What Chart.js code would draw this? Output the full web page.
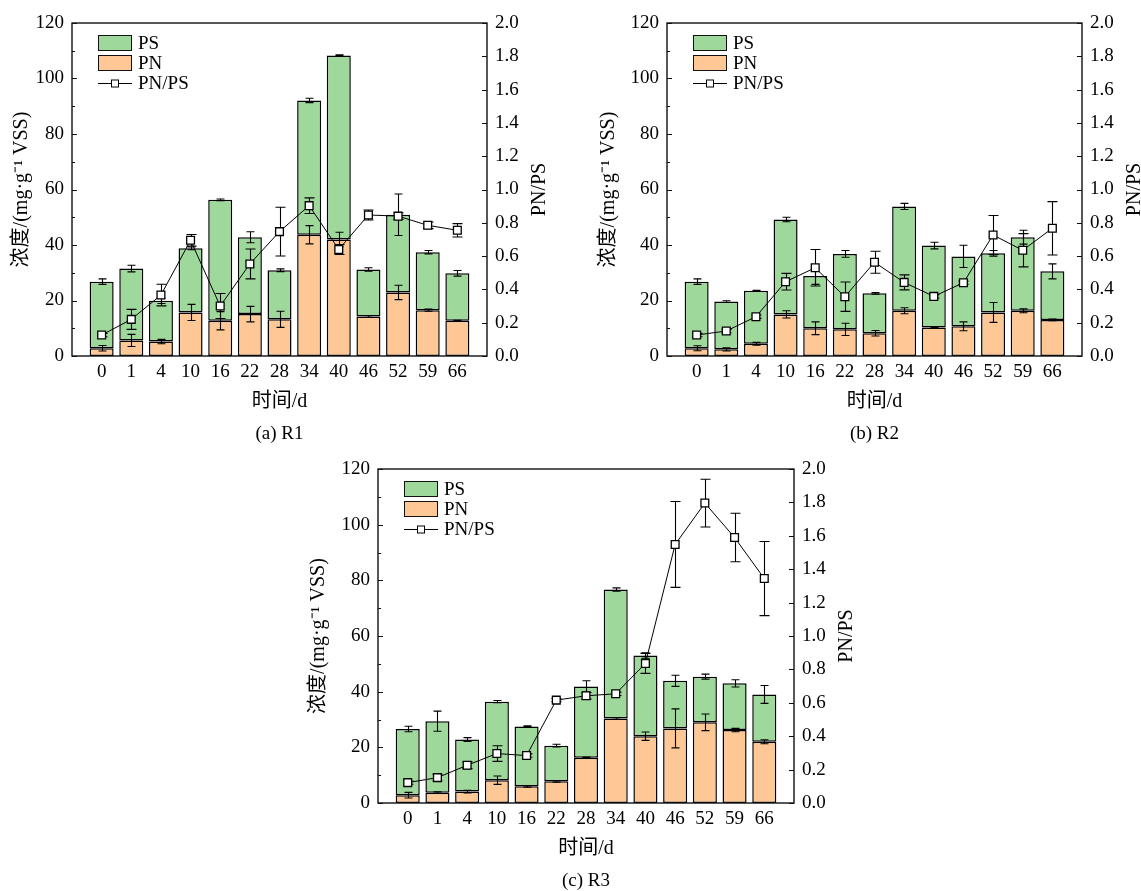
<!DOCTYPE html>
<html>
<head>
<meta charset="utf-8">
<script src="https://cdn.jsdelivr.net/npm/chart.js@4.4.1/dist/chart.umd.min.js"></script>
<style>
  body { margin: 0; background: #fff; width: 1141px; height: 891px; position: relative; overflow: hidden; }
  canvas { position: absolute; }
</style>
</head>
<body>
<canvas id="r1" width="560" height="450" style="left:0px;top:0px"></canvas>
<canvas id="r2" width="560" height="450" style="left:595px;top:0px"></canvas>
<canvas id="r3" width="560" height="450" style="left:306px;top:446px"></canvas>
<script>
// --- données ---
const days = ['0', '1', '4', '10', '16', '22', '28', '34', '40', '46', '52', '59', '66'];

// R1
const r1PN = [2.8, 5.6, 5.2, 15.7, 12.7, 15.1, 13.2, 43.7, 42.0, 14.2, 22.9, 16.5, 12.7];
const r1PS = [24.0, 25.9, 14.7, 23.1, 43.6, 27.7, 17.7, 48.4, 66.3, 17.0, 28.0, 20.9, 17.1];
const r1Ratio = [0.126, 0.22, 0.366, 0.695, 0.30, 0.553, 0.747, 0.903, 0.64, 0.847, 0.84, 0.785, 0.755];
const r1PNErr = [1.0, 2.2, 0.8, 2.9, 3.3, 2.8, 2.9, 3.3, 2.6, 0.3, 2.6, 0.4, 0.2];
const r1PSErr = [1.0, 1.2, 1.0, 0.5, 0.3, 2.0, 0.5, 0.8, 0.2, 0.6, 7.5, 0.6, 1.0];
const r1RatioErr = [0.01, 0.06, 0.065, 0.035, 0.075, 0.09, 0.146, 0.047, 0.03, 0.03, 0.02, 0.02, 0.04];

// R2
const r2PN = [2.8, 2.4, 4.4, 15.0, 10.0, 9.6, 8.2, 16.3, 10.3, 10.7, 15.7, 16.3, 13.0];
const r2PS = [24.0, 17.2, 19.1, 34.2, 18.8, 27.2, 14.4, 37.6, 29.5, 25.2, 21.3, 26.5, 17.5];
const r2Ratio = [0.126, 0.15, 0.236, 0.446, 0.53, 0.356, 0.563, 0.442, 0.358, 0.44, 0.727, 0.635, 0.767];
const r2PNErr = [0.9, 0.6, 0.5, 1.3, 2.3, 2.2, 1.0, 1.1, 0.2, 1.6, 3.6, 0.7, 0.3];
const r2PSErr = [1.0, 0.3, 0.2, 0.8, 3.0, 1.2, 0.3, 1.1, 1.2, 4.0, 1.0, 2.5, 2.7];
const r2RatioErr = [0.01, 0.01, 0.01, 0.05, 0.11, 0.088, 0.066, 0.045, 0.01, 0.01, 0.117, 0.1, 0.16];

// R3
const r3PN = [2.8, 3.7, 4.1, 8.2, 6.0, 7.8, 16.3, 30.4, 24.0, 26.8, 29.0, 26.2, 22.0];
const r3PS = [23.8, 25.7, 18.7, 28.2, 21.5, 12.8, 25.6, 46.3, 29.0, 17.1, 16.4, 16.8, 17.0];
const r3Ratio = [0.122, 0.152, 0.226, 0.296, 0.284, 0.616, 0.642, 0.654, 0.836, 1.548, 1.796, 1.59, 1.344];
const r3PNErr = [1.0, 0.3, 0.5, 1.5, 0.3, 0.3, 0.2, 0.3, 1.5, 7.0, 3.0, 0.6, 0.7];
const r3PSErr = [1.0, 3.6, 0.7, 0.4, 0.2, 0.5, 2.0, 0.6, 1.0, 2.0, 0.9, 1.3, 3.2];
const r3RatioErr = [0.01, 0.02, 0.02, 0.047, 0.01, 0.01, 0.02, 0.01, 0.06, 0.257, 0.143, 0.145, 0.222];

const GREEN = 'rgb(158, 216, 155)';
const ORANGE = 'rgb(253, 200, 150)';
const SERIF = '"Liberation Serif", "Noto Sans CJK SC", serif';

// --- barres d'erreur (dessinées avec les échelles du graphique) ---
function drawErrors(chart, meta) {
    const ds = chart.data.datasets[meta.index];
    if (!ds.errors) return;
    const yScale = chart.scales[meta.yAxisID];
    const unit = Math.abs(yScale.getPixelForValue(1) - yScale.getPixelForValue(0));
    const ctx = chart.ctx;
    const cap = ds.capHalf || 4;
    ctx.save();
    ctx.strokeStyle = '#000';
    ctx.lineWidth = 1.1;
    meta.data.forEach((el, i) => {
        const e = ds.errors[i] * unit;
        const x = Math.round(el.x) + 0.5, y = el.y;
        ctx.beginPath();
        ctx.moveTo(x, y - e); ctx.lineTo(x, y + e);
        ctx.moveTo(x - cap, y - e); ctx.lineTo(x + cap, y - e);
        ctx.moveTo(x - cap, y + e); ctx.lineTo(x + cap, y + e);
        ctx.stroke();
    });
    ctx.restore();
}

const errorBars = {
    id: 'errorBars',
    beforeDatasetDraw(chart, args) { if (args.meta.type === 'line') drawErrors(chart, args.meta); },
    afterDatasetDraw(chart, args) { if (args.meta.type === 'bar') drawErrors(chart, args.meta); }
};

// --- cadre, graduations internes, titres, légende ---
const decorations = {
    id: 'decorations',
    afterDraw(chart, args, opts) {
        const ctx = chart.ctx;
        const a = chart.chartArea;
        const yL = chart.scales.y, yR = chart.scales.y1;
        ctx.save();
        ctx.strokeStyle = '#111';
        ctx.lineWidth = 1.4;
        ctx.strokeRect(a.left, a.top, a.right - a.left, a.bottom - a.top);

        ctx.lineWidth = 1;
        ctx.beginPath();
        yL.ticks.forEach(t => {
            const py = Math.round(yL.getPixelForValue(t.value)) + 0.5;
            const len = t.value % 20 === 0 ? 5 : 3;
            ctx.moveTo(a.left, py); ctx.lineTo(a.left + len, py);
        });
        yR.ticks.forEach(t => {
            const py = Math.round(yR.getPixelForValue(t.value)) + 0.5;
            ctx.moveTo(a.right, py); ctx.lineTo(a.right - 5, py);
        });
        ctx.stroke();

        // titres des axes
        ctx.fillStyle = '#000';
        ctx.textAlign = 'center';
        ctx.textBaseline = 'middle';
        const cy = (a.top + a.bottom) / 2, cx = (a.left + a.right) / 2;
        ctx.font = '20px ' + SERIF;
        ctx.save();
        ctx.translate(a.left - opts.leftTitle, cy);
        ctx.rotate(-Math.PI / 2);
        ctx.fillText('浓度/(mg·g⁻¹ VSS)', 0, 0);
        ctx.restore();
        ctx.save();
        ctx.translate(a.right + 53, cy);
        ctx.rotate(-Math.PI / 2);
        ctx.fillText('PN/PS', 0, 0);
        ctx.restore();
        ctx.fillText('时间/d', cx, a.bottom + 46);
        ctx.font = '19px ' + SERIF;
        ctx.fillText(opts.caption, cx, a.bottom + 78);

        // légende
        const lx = a.left + 26, ly = a.top + 12;
        ctx.font = '19px ' + SERIF;
        ctx.textAlign = 'left';
        ['PS', 'PN', 'PN/PS'].forEach((label, k) => {
            const ds = chart.data.datasets.find(d => d.label === label);
            const rowY = ly + k * 20;
            if (ds.type === 'line') {
                const my = rowY + 8;
                ctx.strokeStyle = '#000';
                ctx.lineWidth = 1;
                ctx.beginPath();
                ctx.moveTo(lx, my + 0.5); ctx.lineTo(lx + 34, my + 0.5);
                ctx.stroke();
                ctx.fillStyle = '#fff';
                ctx.fillRect(lx + 13.5, my - 3, 7, 7);
                ctx.strokeRect(lx + 13.5, my - 3, 7, 7);
            } else {
                ctx.fillStyle = ds.backgroundColor;
                ctx.fillRect(lx, rowY, 34, 16);
                ctx.strokeStyle = '#111';
                ctx.lineWidth = 1;
                ctx.strokeRect(lx + 0.5, rowY + 0.5, 33, 15);
            }
            ctx.fillStyle = '#000';
            ctx.fillText(label, lx + 40, rowY + 9);
        });
        ctx.restore();
    }
};

function makePanel(id, pn, ps, ratio, pnErr, psErr, ratioErr, caption, plotW, plotH, leftTitle) {
    const toPts = arr => arr.map((v, i) => ({ x: i, y: v }));
    new Chart(document.getElementById(id), {
        type: 'bar',
        data: {
            datasets: [
                {
                    type: 'line', label: 'PN/PS', yAxisID: 'y1',
                    data: toPts(ratio), errors: ratioErr, capHalf: 5,
                    borderColor: '#000', borderWidth: 1,
                    pointStyle: 'rect', pointRadius: 5.5,
                    pointBackgroundColor: '#fff', pointBorderColor: '#000', pointBorderWidth: 1.3
                },
                {
                    label: 'PN', yAxisID: 'y', data: toPts(pn), errors: pnErr,
                    backgroundColor: ORANGE, borderColor: '#000', borderWidth: 1.5, borderSkipped: false
                },
                {
                    label: 'PS', yAxisID: 'y', data: toPts(ps), errors: psErr,
                    backgroundColor: GREEN, borderColor: '#000', borderWidth: 1.5, borderSkipped: false
                }
            ]
        },
        options: {
            responsive: false,
            animation: false,
            categoryPercentage: 0.9,
            barPercentage: 0.9,
            layout: { padding: { top: 23, left: 0, right: 0, bottom: 0 } },
            plugins: {
                legend: { display: false },
                tooltip: { enabled: false },
                decorations: { caption: caption, leftTitle: leftTitle }
            },
            scales: {
                x: {
                    type: 'linear', stacked: true, offset: false,
                    min: -1, max: days.length,
                    grid: { display: false, drawTicks: false },
                    border: { display: false },
                    ticks: {
                        stepSize: 1, autoSkip: false, maxRotation: 0, padding: 5,
                        color: '#000', font: { family: SERIF, size: 19 },
                        callback: v => days[v] ?? ''
                    },
                    afterFit: s => { s.height = 450 - 23 - plotH; }
                },
                y: {
                    position: 'left', stacked: true, min: 0, max: 120,
                    grid: { display: false, drawTicks: false },
                    border: { display: false },
                    ticks: {
                        stepSize: 10, padding: 8, color: '#000',
                        font: { family: SERIF, size: 19 },
                        callback: v => (v % 20 === 0 ? v : '')
                    },
                    afterFit: s => { s.width = 72; }
                },
                y1: {
                    position: 'right', min: 0, max: 2,
                    grid: { display: false, drawTicks: false },
                    border: { display: false },
                    ticks: {
                        stepSize: 0.2, padding: 8, color: '#000',
                        font: { family: SERIF, size: 19 },
                        callback: v => v.toFixed(1)
                    },
                    afterFit: s => { s.width = 560 - 72 - plotW; }
                }
            }
        },
        plugins: [errorBars, decorations]
    });
}

makePanel('r1', r1PN, r1PS, r1Ratio, r1PNErr, r1PSErr, r1RatioErr, '(a) R1', 415, 333, 50);
makePanel('r2', r2PN, r2PS, r2Ratio, r2PNErr, r2PSErr, r2RatioErr, '(b) R2', 415, 333, 58);
makePanel('r3', r3PN, r3PS, r3Ratio, r3PNErr, r3PSErr, r3RatioErr, '(c) R3', 416, 334, 59);
</script>
</body>
</html>
